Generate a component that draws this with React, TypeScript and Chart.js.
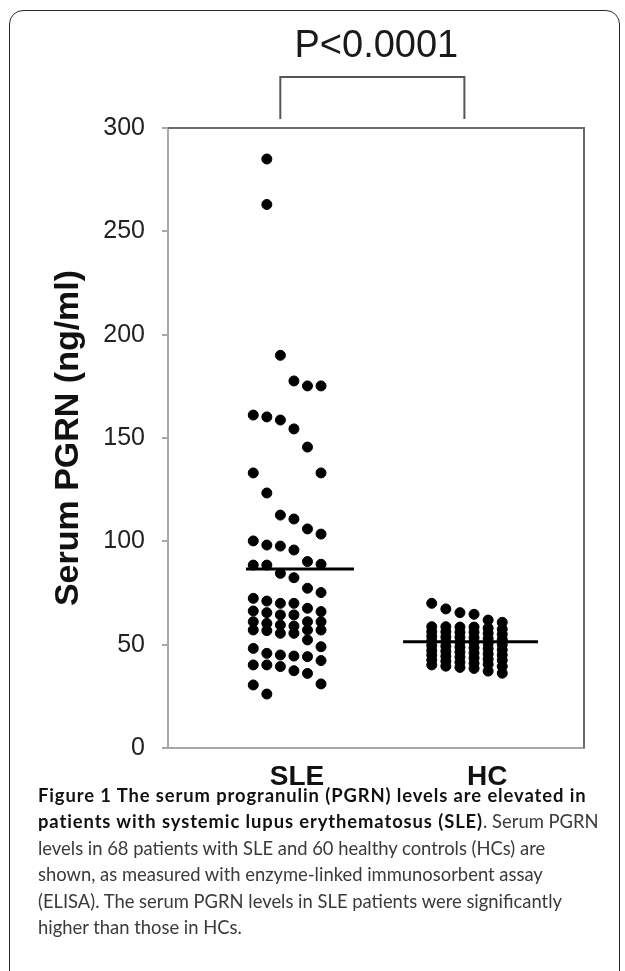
import React, { useEffect, useRef } from 'react';
import { Chart, registerables } from 'chart.js';

Chart.register(...registerables);

// ---- data ----
const groups = ['SLE', 'HC'];
const groupLabelPos = [1.24, 3.07];
const yTicks = [0, 50, 100, 150, 200, 250, 300];
const pValueText = 'P<0.0001';
const yTitle = 'Serum PGRN (ng/ml)';

// SLE serum PGRN values (ng/ml) and the dot-column each dot is placed in
const sleValues = [
  285, 263, 190, 177.6, 175.2, 175.2, 161.1, 160.2, 158.7, 154.4, 145.6, 133.1, 133.1, 123.4, 112.7, 110.8, 106, 103.5, 100.2,
  88.5, 72.4, 66.3, 61.1, 57.1, 48.2, 40.2, 30.5,
  98.2, 88.5, 71.1, 65.5, 60.3, 56.8, 45.8, 40.2, 26.1,
  97.7, 84.5, 70.0, 64.4, 59.5, 55.5, 45.0, 39.4,
  95.8, 82.4, 70.0, 64.4, 59.0, 55.5, 44.5, 37.4,
  90.2, 77.3, 67.6, 61.1, 57.1, 52.3, 44.2, 36.1,
  88.9, 75.2, 66.0, 61.1, 57.1, 49.0, 42.3, 31.0,
];
const sleColumn = [
  1, 1, 2, 3, 4, 5, 0, 1, 2, 3, 4, 0, 5, 1, 2, 3, 4, 5, 0,
  0, 0, 0, 0, 0, 0, 0, 0,
  1, 1, 1, 1, 1, 1, 1, 1, 1,
  2, 2, 2, 2, 2, 2, 2, 2,
  3, 3, 3, 3, 3, 3, 3, 3,
  4, 4, 4, 4, 4, 4, 4, 4,
  5, 5, 5, 5, 5, 5, 5, 5,
];

// HC serum PGRN values (ng/ml) and dot-column
const hcValues = [
  70.0, 58.7, 56.3, 54.0, 51.8, 49.6, 47.2, 45.0, 42.6, 40.2,
  67.3, 58.7, 56.2, 53.8, 51.5, 49.2, 46.8, 44.4, 42.0, 39.6,
  65.5, 58.5, 56.0, 53.6, 51.2, 48.8, 46.4, 44.0, 41.5, 39.0,
  64.7, 58.5, 56.0, 53.4, 51.0, 48.5, 46.0, 43.5, 41.0, 38.5,
  61.9, 58.0, 55.5, 53.0, 50.5, 48.0, 45.5, 43.0, 40.5, 37.2,
  60.8, 57.5, 55.0, 52.5, 50.0, 47.5, 45.0, 42.5, 39.5, 36.2,
];
const hcColumn = [
  0, 0, 0, 0, 0, 0, 0, 0, 0, 0,
  1, 1, 1, 1, 1, 1, 1, 1, 1, 1,
  2, 2, 2, 2, 2, 2, 2, 2, 2, 2,
  3, 3, 3, 3, 3, 3, 3, 3, 3, 3,
  4, 4, 4, 4, 4, 4, 4, 4, 4, 4,
  5, 5, 5, 5, 5, 5, 5, 5, 5, 5,
];

const sleMean = 86.6;
const hcMean = 51.4;

// layout (x-axis units)
const sleColStart = 0.82;
const sleColStep = 0.1303;
const hcColStart = 2.536;
const hcColStep = 0.1356;
const sleLineSpan = [0.75, 1.788];
const hcLineSpan = [2.26, 3.558];
const bracketSpan = [1.08, 2.85];

const FONT = '"Liberation Sans", Arial, Helvetica, sans-serif';

const captionLines: { b?: string; r?: string }[] = [
  { b: 'Figure 1 The serum progranulin (PGRN) levels are elevated in' },
  { b: 'patients with systemic lupus erythematosus (SLE)', r: '. Serum PGRN' },
  { r: 'levels in 68 patients with SLE and 60 healthy controls (HCs) are' },
  { r: 'shown, as measured with enzyme-linked immunosorbent assay' },
  { r: '(ELISA). The serum PGRN levels in SLE patients were significantly' },
  { r: 'higher than those in HCs.' },
];

const decorPlugin = {
  id: 'decor',
  afterDraw(chart: any) {
    const { ctx, chartArea } = chart;
    const xs = chart.scales.x;
    const { left, right, top, bottom } = chartArea;
    ctx.save();
    // top & right frame of plot box
    ctx.strokeStyle = '#6a6a6a';
    ctx.lineWidth = 2;
    ctx.beginPath();
    ctx.moveTo(left, top);
    ctx.lineTo(right, top);
    ctx.lineTo(right, bottom);
    ctx.stroke();

    // bracket
    const bx0 = xs.getPixelForValue(bracketSpan[0]);
    const bx1 = xs.getPixelForValue(bracketSpan[1]);
    const bTop = top - 51;
    const bBot = top - 9;
    ctx.strokeStyle = '#555';
    ctx.lineWidth = 2;
    ctx.beginPath();
    ctx.moveTo(bx0, bBot);
    ctx.lineTo(bx0, bTop);
    ctx.lineTo(bx1, bTop);
    ctx.lineTo(bx1, bBot);
    ctx.stroke();

    // p value text
    ctx.fillStyle = '#1a1a1a';
    ctx.font = `38px ${FONT}`;
    ctx.textAlign = 'center';
    ctx.textBaseline = 'middle';
    ctx.fillText(pValueText, (bx0 + bx1) / 2 + 4, top - 81);

    // y title
    ctx.translate(69, (top + bottom) / 2);
    ctx.rotate(-Math.PI / 2);
    ctx.font = `bold 34px ${FONT}`;
    ctx.fillStyle = '#111';
    ctx.textAlign = 'center';
    ctx.textBaseline = 'middle';
    ctx.fillText(yTitle, 0, 0);
    ctx.restore();
  },
};

function ChartCanvas() {
  const ref = useRef<HTMLCanvasElement>(null);
  useEffect(() => {
    if (!ref.current) return;
    const slePts = sleValues.map((v, i) => ({ x: sleColStart + sleColumn[i] * sleColStep, y: v }));
    const hcPts = hcValues.map((v, i) => ({ x: hcColStart + hcColumn[i] * hcColStep, y: v }));
    const chart = new Chart(ref.current, {
      type: 'scatter',
      data: {
        datasets: [
          {
            label: groups[0],
            data: slePts,
            backgroundColor: '#000',
            borderColor: '#000',
            pointRadius: 5,
            borderWidth: 1,
          },
          {
            label: groups[1],
            data: hcPts,
            backgroundColor: '#000',
            borderColor: '#000',
            pointRadius: 5,
            borderWidth: 1,
          },
          {
            label: 'SLE mean',
            data: [
              { x: sleLineSpan[0], y: sleMean },
              { x: sleLineSpan[1], y: sleMean },
            ],
            showLine: true,
            borderColor: '#000',
            borderWidth: 3,
            pointRadius: 0,
          },
          {
            label: 'HC mean',
            data: [
              { x: hcLineSpan[0], y: hcMean },
              { x: hcLineSpan[1], y: hcMean },
            ],
            showLine: true,
            borderColor: '#000',
            borderWidth: 3,
            pointRadius: 0,
          },
        ],
      },
      options: {
        responsive: false,
        animation: false,
        devicePixelRatio: 1,
        layout: { padding: { top: 128, right: 41, bottom: 0, left: 0 } },
        plugins: { legend: { display: false }, tooltip: { enabled: false } },
        scales: {
          x: {
            type: 'linear',
            min: 0,
            max: 4,
            afterBuildTicks: (axis: any) => {
              axis.ticks = groupLabelPos.map((v) => ({ value: v }));
            },
            afterFit: (axis: any) => {
              axis.height = 50;
            },
            ticks: {
              autoSkip: false,
              maxRotation: 0,
              padding: 12,
              color: '#111',
              font: { family: FONT, size: 28, weight: 'bold' },
              callback: (_v: any, i: number) => groups[i],
            },
            grid: { display: false, drawTicks: false },
            border: { display: true, color: '#a8a8a8', width: 2 },
          },
          y: {
            type: 'linear',
            min: 0,
            max: 300,
            afterBuildTicks: (axis: any) => {
              axis.ticks = yTicks.map((v) => ({ value: v }));
            },
            afterFit: (axis: any) => {
              axis.width = 168;
            },
            ticks: {
              padding: 17,
              color: '#222',
              font: { family: FONT, size: 25 },
            },
            grid: { drawOnChartArea: false, drawTicks: true, tickLength: 6, color: '#a8a8a8', lineWidth: 2 },
            border: { display: true, color: '#a8a8a8', width: 2 },
          },
        },
      },
      plugins: [decorPlugin],
    } as any);
    return () => chart.destroy();
  }, []);
  return <canvas ref={ref} width={625} height={798} style={{ position: 'absolute', left: 0, top: 0, width: 625, height: 798 }} />;
}

export default function App() {
  return (
    <div style={{ position: 'fixed', left: 0, top: 0, width: 625, height: 971, overflow: 'hidden', background: '#fff' }}>
      <div
        style={{
          position: 'absolute',
          left: 9,
          top: 10,
          width: 611,
          height: 1100,
          border: '1.5px solid #2a2a2a',
          borderRadius: 14,
          boxSizing: 'border-box',
        }}
      />
      <ChartCanvas />
      <div
        style={{
          position: 'absolute',
          left: 38,
          top: 782,
          fontFamily: 'Lato, "Open Sans", sans-serif',
          fontSize: 18.4,
          lineHeight: '26.4px',
          color: '#3a3a3a',
          whiteSpace: 'nowrap',
        }}
      >
        {captionLines.map((l, i) => (
          <div key={i}>
            {l.b ? <span style={{ fontWeight: 700, color: '#111', letterSpacing: '0.9px' }}>{l.b}</span> : null}
            {l.r ? <span>{l.r}</span> : null}
          </div>
        ))}
      </div>
    </div>
  );
}
